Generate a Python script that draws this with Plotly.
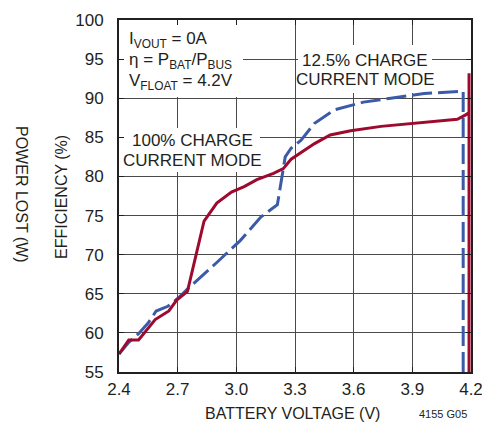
import plotly.graph_objects as go

# Battery voltage (V) and efficiency (%) for the two charge-current modes
v_full = [2.40, 2.45, 2.50, 2.585, 2.655, 2.695, 2.75, 2.815, 2.835, 2.90, 2.975,
          3.04, 3.105, 3.19, 3.24, 3.28, 3.33, 3.40, 3.48, 3.585, 3.74, 3.91,
          4.13, 4.175, 4.19, 4.19, 4.19]
eff_full = [57.3, 59.1, 59.1, 61.7, 62.8, 64.2, 65.3, 72.0, 74.3, 76.6, 78.0,
            78.7, 79.6, 80.4, 81.0, 82.2, 83.0, 84.2, 85.3, 85.85, 86.4, 86.8,
            87.3, 87.9, 88.2, 93.2, 55.0]

v_low = [2.40, 2.45, 2.50, 2.55, 2.59, 2.65, 2.70, 2.75, 2.90, 3.02, 3.125,
         3.21, 3.25, 3.28, 3.33, 3.40, 3.50, 3.65, 3.79, 3.96, 4.16, 4.16]
eff_low = [57.3, 58.8, 59.9, 61.3, 62.8, 63.4, 64.4, 65.6, 69.0, 71.8, 74.8,
           76.4, 82.5, 83.6, 84.6, 86.8, 88.5, 89.5, 90.0, 90.6, 90.9, 55.0]

x_ticks = [2.4, 2.7, 3.0, 3.3, 3.6, 3.9, 4.2]
x_tick_text = ["2.4", "2.7", "3.0", "3.3", "3.6", "3.9", "4.2"]
y_ticks = [55, 60, 65, 70, 75, 80, 85, 90, 95, 100]

FONT = "Liberation Sans, Arial, sans-serif"
INK = "#231f20"
RED = "#9e0a2e"
BLUE = "#3b5aa8"

# plot-area geometry in pixels, used to place labels
W, H = 482, 425
L, R, T, B = 119, 471, 20, 372
X0, X1, Y0, Y1 = 2.4, 4.2, 55, 100


def px_x(p):
    return X0 + (p - L) * (X1 - X0) / (R - L)


def px_y(p):
    return Y1 - (p - T) * (Y1 - Y0) / (B - T)


fig = go.Figure()
fig.add_trace(go.Scatter(x=v_low, y=eff_low, mode="lines",
                         line=dict(color=BLUE, width=3, dash="20px,6px"),
                         showlegend=False))
fig.add_trace(go.Scatter(x=v_full, y=eff_full, mode="lines",
                         line=dict(color=RED, width=3),
                         showlegend=False))

# white panels behind the in-plot text blocks (over the grid, under the curves)
for (a, b, c, d) in [(119, 243, 20, 97), (298, 432, 45, 93), (123, 260, 128, 172)]:
    fig.add_shape(type="rect", layer="between",
                  x0=px_x(a), x1=px_x(b), y0=px_y(d), y1=px_y(c),
                  fillcolor="white", line=dict(width=0))

ann = []


def text_px(s, px, py, size=16, xanchor="center", angle=0):
    ann.append(dict(text=s, x=(px - L) / (R - L), y=(B - py) / (B - T),
                    xref="paper", yref="paper", xanchor=xanchor,
                    yanchor="middle", showarrow=False, textangle=angle,
                    font=dict(family=FONT, size=size, color=INK)))


# conditions block
text_px("I<sub>VOUT</sub> = 0A", 127, 40, 17, "left")
text_px("η = P<sub>BAT</sub>/P<sub>BUS</sub>", 127, 61, 17, "left")
text_px("V<sub>FLOAT</sub> = 4.2V", 127, 82, 17, "left")

# mode labels
text_px("12.5% CHARGE", 365, 60, 17)
text_px("CURRENT MODE", 365, 80, 17)
text_px("100% CHARGE", 192, 140, 17)
text_px("CURRENT MODE", 192, 160, 17)

# axis titles
text_px("EFFICIENCY (%)", 61, 197, 16, angle=-90)
text_px("POWER LOST (W)", 21, 194, 16, angle=90)
text_px("BATTERY VOLTAGE (V)", 292, 413, 16)
text_px("4155 G05", 443, 414, 11)

axis_common = dict(showgrid=True, gridcolor="#4a4a4a", gridwidth=1,
                   showline=True, linecolor=INK, linewidth=2, mirror="ticks",
                   ticks="inside", ticklen=5, tickcolor=INK, tickwidth=1,
                   zeroline=False, ticklabeloverflow="allow", automargin=False,
                   tickfont=dict(family=FONT, size=17, color=INK))

fig.update_xaxes(range=[X0, X1], tickvals=x_ticks, ticktext=x_tick_text,
                 ticklabelstandoff=1, **axis_common)
fig.update_yaxes(range=[Y0, Y1], tickvals=y_ticks, ticklabelstandoff=10,
                 **axis_common)

fig.update_layout(width=W, height=H,
                  margin=dict(l=L, r=W - R, t=T, b=H - B, autoexpand=False),
                  paper_bgcolor="white", plot_bgcolor="white",
                  annotations=ann)

fig.write_html("out.html")
